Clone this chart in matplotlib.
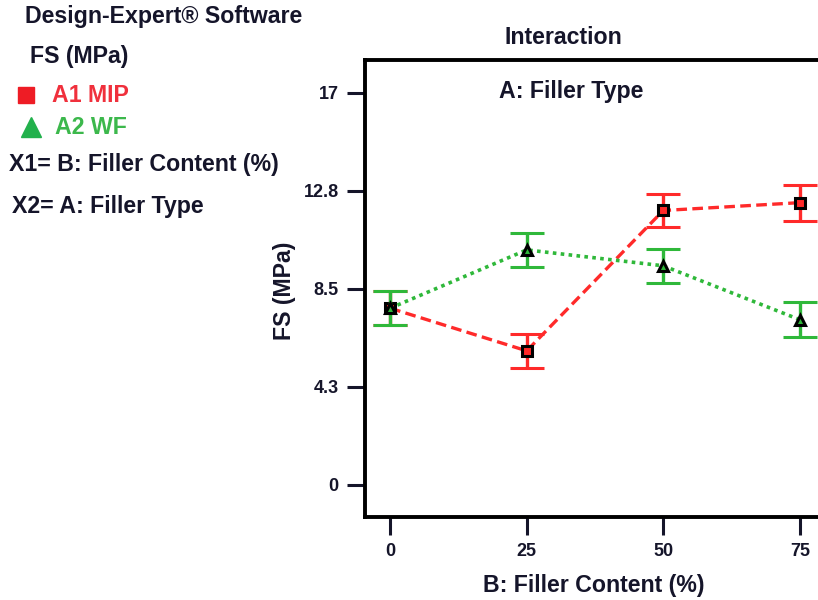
import matplotlib
matplotlib.use("Agg")
import matplotlib.pyplot as plt

plt.rcParams['font.family'] = ['Liberation Sans', 'DejaVu Sans']
plt.rcParams['font.weight'] = 'bold'

# Filler content levels (%) and FS means with half-width of the LSD bars
filler_content = [0, 25, 50, 75]
fs_mip = [7.66, 5.81, 11.90, 12.24]
fs_wf = [7.66, 10.19, 9.50, 7.16]
err_mip = [0.74, 0.75, 0.73, 0.78]
err_wf = [0.74, 0.75, 0.74, 0.75]
y_ticks = [0, 4.25, 8.5, 12.75, 17]
y_tick_labels = ['0', '4.3', '8.5', '12.8', '17']

RED = '#ff2a2a'
GREEN = '#2fb83a'
TXT = '#15152a'
FS = 16.7

fig = plt.figure(figsize=(8.18, 6.0), dpi=100)
ax = fig.add_axes([365 / 818, 1 - 517 / 600, 460 / 818, 457 / 600])

ax.errorbar(filler_content, fs_mip, yerr=err_mip, color=RED, ls=(0, (3.2, 1.6)),
            lw=2.4, ecolor=RED, elinewidth=2.4, capsize=12, capthick=2.4,
            marker='s', ms=6.5, mfc=RED, mec='black', mew=2.2, zorder=3)
ax.errorbar(filler_content, fs_wf, yerr=err_wf, color=GREEN, ls=(0, (1, 1.2)),
            lw=2.6, ecolor=GREEN, elinewidth=2.4, capsize=12, capthick=2.4,
            marker='^', ms=7.5, mfc=GREEN, mec='black', mew=2.2, zorder=4)

ax.set_xlim(-4.6, 79.6)
ax.set_ylim(-1.4, 18.43)
ax.set_xticks(filler_content)
ax.set_xticklabels([str(v) for v in filler_content])
ax.set_yticks(y_ticks)
ax.set_yticklabels(y_tick_labels)
ax.tick_params(axis='both', direction='out', length=13, width=2.2,
               labelsize=13, colors=TXT, pad=6)
ax.tick_params(axis='x', pad=6)
for lab in ax.get_xticklabels() + ax.get_yticklabels():
    lab.set_fontweight('bold')
for sp in ax.spines.values():
    sp.set_linewidth(2.8)
    sp.set_color('black')

ax.set_xlabel('B: Filler Content (%)', fontsize=FS, fontweight='bold',
              color=TXT)
ax.xaxis.set_label_coords(0.498, -0.149)
ax.xaxis.label.set_verticalalignment('center')
ax.set_ylabel('FS (MPa)', fontsize=FS, fontweight='bold', color=TXT)
ax.yaxis.set_label_coords(-0.174, 0.495)
ax.yaxis.label.set_verticalalignment('center')
ax.text(0.448, 0.93, 'A: Filler Type', transform=ax.transAxes, ha='center',
        va='center', fontsize=FS, fontweight='bold', color=TXT)

fig.text(563 / 818, 1 - 37 / 600, 'Interaction', ha='center', va='center',
         fontsize=FS, fontweight='bold', color=TXT)

# Legend / design summary panel
fig.text(25 / 818, 1 - 17 / 600, 'Design-Expert® Software', ha='left',
         va='center', fontsize=FS, fontweight='bold', color=TXT)
fig.text(30 / 818, 1 - 57 / 600, 'FS (MPa)', ha='left', va='center',
         fontsize=FS, fontweight='bold', color=TXT)
fig.text(52 / 818, 1 - 95 / 600, 'A1 MIP', ha='left', va='center',
         fontsize=FS, fontweight='bold', color='#f0303c')
fig.text(55 / 818, 1 - 128 / 600, 'A2 WF', ha='left', va='center',
         fontsize=FS, fontweight='bold', color='#3cb84c')
fig.add_artist(plt.Line2D([25.5 / 818], [1 - 95 / 600], marker='s', ms=11,
                          color='#ee1c25', ls='none'))
fig.add_artist(plt.Line2D([30.5 / 818], [1 - 127 / 600], marker='^', ms=15,
                          color='#22b14c', ls='none'))
fig.text(9 / 818, 1 - 165 / 600, 'X1= B: Filler Content (%)', ha='left',
         va='center', fontsize=FS, fontweight='bold', color=TXT)
fig.text(12 / 818, 1 - 207 / 600, 'X2= A: Filler Type', ha='left',
         va='center', fontsize=FS, fontweight='bold', color=TXT)

fig.savefig('out.png', dpi=100)
